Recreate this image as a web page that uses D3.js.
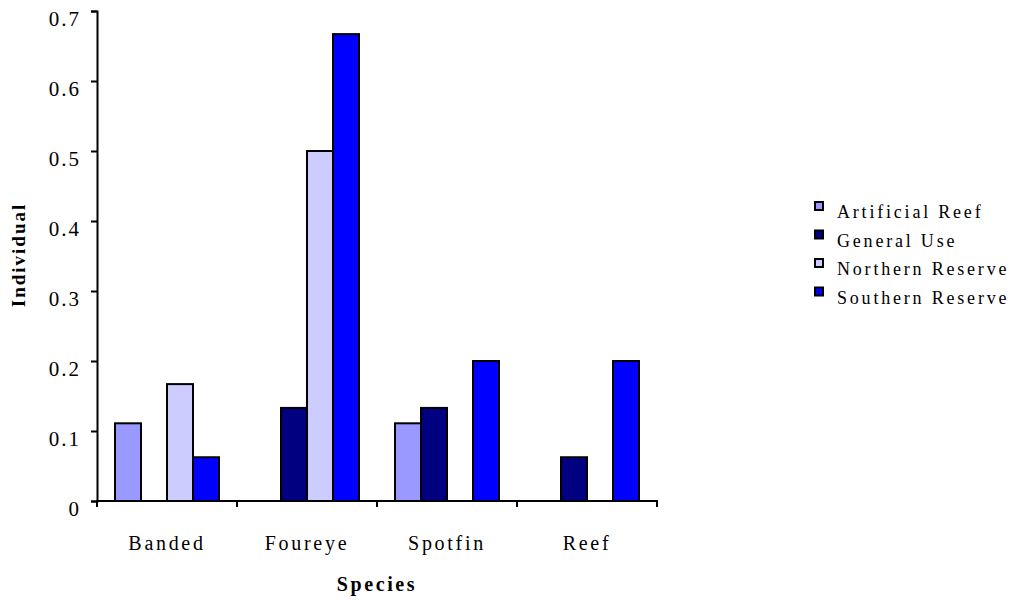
<!DOCTYPE html>
<html>
<head>
<meta charset="utf-8">
<script src="https://cdn.jsdelivr.net/npm/d3@7"></script>
<style>
  body { margin: 0; background: #fff; }
  svg { display: block; font-family: "Liberation Serif", "Times New Roman", serif; }
</style>
</head>
<body>
<svg id="chart" width="1023" height="600"></svg>
<script>
const species = ['Banded', 'Foureye', 'Spotfin', 'Reef'];
const sites = ['Artificial Reef', 'General Use', 'Northern Reserve', 'Southern Reserve'];
const siteColors = ['#9999FF', '#000080', '#CCCCFF', '#0000FF'];

// one array per site, in species order
const artificialReef = [0.111, 0, 0.111, 0];
const generalUse = [0, 0.133, 0.133, 0.0625];
const northernReserve = [0.167, 0.5, 0, 0];
const southernReserve = [0.0625, 0.667, 0.2, 0.2];

const yTicks = [0, 0.1, 0.2, 0.3, 0.4, 0.5, 0.6, 0.7];

const seriesValues = [artificialReef, generalUse, northernReserve, southernReserve];

const svg = d3.select('#chart');
const plotLeft = 97;
const plotRight = 657;
const plotTop = 11;
const plotBottom = 501;
const serif = '"Liberation Serif", "Times New Roman", serif';

const x0 = d3.scaleBand().domain(species).range([plotLeft, plotRight]);
const x1 = d3.scaleBand().domain(sites).range([18, x0.bandwidth() - 18]);
const y = d3.scaleLinear().domain([0, 0.7]).range([plotBottom, plotTop]);
const color = d3.scaleOrdinal(sites, siteColors);

const rows = [];
species.forEach((s, i) => {
  sites.forEach((site, j) => {
    rows.push({ species: s, site, value: seriesValues[j][i] });
  });
});

// bars
svg.append('g')
  .selectAll('rect')
  .data(rows.filter((d) => d.value > 0))
  .join('rect')
  .attr('x', (d) => x0(d.species) + x1(d.site))
  .attr('y', (d) => y(d.value))
  .attr('width', x1.bandwidth())
  .attr('height', (d) => y(0) - y(d.value))
  .attr('fill', (d) => color(d.site))
  .attr('stroke', '#000')
  .attr('stroke-width', 2);

// y axis
const yAxis = svg.append('g')
  .attr('transform', `translate(${plotLeft},0)`)
  .call(d3.axisLeft(y)
    .tickValues(yTicks)
    .tickSize(6)
    .tickFormat((d) => (d === 0 ? '0' : d.toFixed(1))));
yAxis.selectAll('path, line').attr('stroke', '#000').attr('stroke-width', 2);
yAxis.selectAll('text')
  .attr('x', -16)
  .attr('dy', '0.7em')
  .attr('fill', '#000')
  .style('font-size', '21px')
  .style('letter-spacing', '2px')
  .style('font-family', serif);

// x axis: line plus ticks at category boundaries
const xAxis = svg.append('g');
xAxis.append('line')
  .attr('x1', plotLeft - 1).attr('x2', plotRight + 1)
  .attr('y1', plotBottom).attr('y2', plotBottom)
  .attr('stroke', '#000').attr('stroke-width', 2);
xAxis.selectAll('line.tick')
  .data(species.map((s) => x0(s)).concat([plotRight]))
  .join('line')
  .attr('class', 'tick')
  .attr('x1', (d) => d).attr('x2', (d) => d)
  .attr('y1', plotBottom).attr('y2', plotBottom + 6)
  .attr('stroke', '#000').attr('stroke-width', 2);
xAxis.selectAll('text')
  .data(species)
  .join('text')
  .attr('x', (d) => x0(d) + x0.bandwidth() / 2)
  .attr('y', 550)
  .attr('text-anchor', 'middle')
  .style('font-size', '20px')
  .style('letter-spacing', '2.7px')
  .text((d) => d);

// axis titles
svg.append('text')
  .attr('transform', 'translate(25,255) rotate(-90)')
  .attr('text-anchor', 'middle')
  .style('font-size', '19px')
  .style('font-weight', 'bold')
  .style('letter-spacing', '2px')
  .text('Individual');

svg.append('text')
  .attr('x', 377)
  .attr('y', 591)
  .attr('text-anchor', 'middle')
  .style('font-size', '20px')
  .style('font-weight', 'bold')
  .style('letter-spacing', '2.6px')
  .text('Species');

// legend
const legend = svg.append('g')
  .selectAll('g')
  .data(sites)
  .join('g')
  .attr('transform', (d, i) => `translate(815,${202 + i * 28.5})`);
legend.append('rect')
  .attr('width', 8)
  .attr('height', 8)
  .attr('fill', (d) => color(d))
  .attr('stroke', '#000')
  .attr('stroke-width', 2);
legend.append('text')
  .attr('x', 22)
  .attr('y', 16)
  .style('font-size', '18px')
  .style('letter-spacing', '2.8px')
  .text((d) => d);
</script>
</body>
</html>
